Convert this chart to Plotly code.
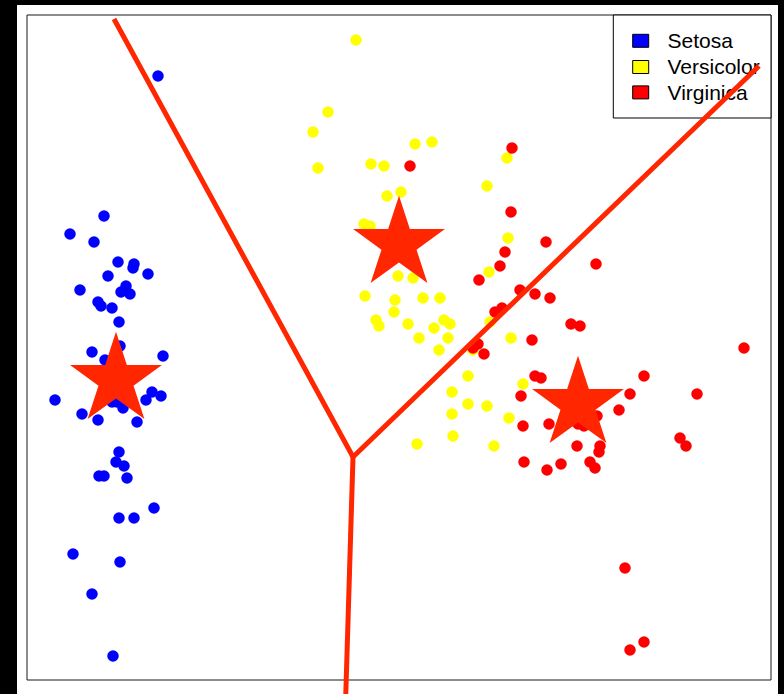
import plotly.graph_objects as go

# --- Cluster members (first two principal components) ---
setosa_x = [-1.69, -2.23, -2.57, -2.33, -2.09, -1.93, -1.94, -2.19, -1.79, -2.47,
            -2.01, -2.06, -1.97, -2.29, -2.26, -2.15, -2.08, -2.35, -2.07, -2.22,
            -1.64, -2.72, -1.75, -1.66, -1.81, -2.15, -2.10, -2.04, -2.45, -2.29,
            -1.90, -2.08, -2.11, -2.03, -2.28, -2.23, -2.00, -1.73, -2.08, -1.93,
            -2.54, -2.07, -2.35, -2.14]
setosa_y = [1.36, 0.66, 0.57, 0.53, 0.43, 0.42, 0.40, 0.36, 0.37, 0.29,
            0.31, 0.28, 0.27, 0.23, 0.21, 0.20, 0.13, -0.02, 0.01, -0.06,
            -0.04, -0.26, -0.22, -0.24, -0.26, -0.27, -0.27, -0.30, -0.33, -0.36,
            -0.37, -0.52, -0.57, -0.59, -0.64, -0.64, -0.65, -0.80, -0.85, -0.85,
            -1.03, -1.07, -1.23, -1.54]

versicolor_x = [0.29, 0.01, -0.14, -0.09, 0.44, 0.57, 0.88, 1.05, 0.60, 0.74,
                0.37, 0.43, 0.71, 0.86, 0.38, 0.68, 0.67, 0.96, 1.13, 0.49,
                0.52, 0.81, 1.07, 1.17, 1.23, 0.92, 1.21, 1.12, 1.60, 1.80,
                1.81, 1.62, 1.63, 1.84, 1.46, 1.41, 1.25, 1.96, 1.41, 1.60,
                1.25, 1.82, 1.26, 0.90, 1.67]
versicolor_y = [1.54, 1.18, 1.08, 0.90, 0.92, 0.91, 1.02, 1.03, 0.76, 0.78,
                0.62, 0.61, 0.36, 0.35, 0.26, 0.24, 0.18, 0.25, 0.25, 0.14,
                0.11, 0.12, 0.10, 0.14, 0.12, 0.05, 0.05, -0.01, 0.81, 0.95,
                0.55, 0.38, 0.13, 0.05, -0.01, -0.14, -0.22, -0.18, -0.28, -0.29,
                -0.33, -0.35, -0.44, -0.48, -0.49]

virginica_x = [0.83, 1.85, 1.84, 1.78, 2.19, 1.73, 2.69, 1.52, 1.93, 2.08,
               2.23, 1.68, 1.75, 2.44, 2.53, 2.05, 1.51, 1.46, 1.57, 4.17,
               2.08, 2.14, 3.17, 1.94, 3.03, 3.70, 2.92, 2.70, 1.96, 2.22,
               2.51, 2.57, 3.53, 3.59, 2.50, 2.73, 2.72, 1.97, 2.20, 2.34,
               2.63, 2.68, 2.98, 3.17, 3.03]
virginica_y = [0.91, 1.00, 0.68, 0.48, 0.53, 0.41, 0.42, 0.34, 0.29, 0.27,
               0.25, 0.18, 0.20, 0.12, 0.11, 0.04, 0.02, 0.00, -0.03, 0.00,
               -0.14, -0.15, -0.14, -0.24, -0.23, -0.23, -0.31, -0.34, -0.39, -0.38,
               -0.38, -0.39, -0.45, -0.49, -0.49, -0.49, -0.52, -0.57, -0.61, -0.58,
               -0.57, -0.60, -1.10, -1.47, -1.51]

# --- Cluster centres ---
centre_x = [-2.11, 0.72, 2.51]
centre_y = [-0.16, 0.52, -0.28]

# --- Voronoi boundary between the centres (three rays from one vertex) ---
boundary_x = [-2.13, 0.26, 4.32]
boundary_y = [1.645, -0.545, 1.41]
boundary2_x = [0.26, 0.18]
boundary2_y = [-0.545, -1.86]

species = ["Setosa", "Versicolor", "Virginica"]
species_colors = ["#0000FF", "#FFFF00", "#FF0000"]
accent = "#FF2600"

# Frame and legend geometry (data units)
frame = dict(x0=-3.00, x1=4.44, y0=-1.66, y1=1.665)
legend_box = dict(x0=2.863, x1=4.44, y0=1.15, y1=1.665)
legend_sw_x = (3.057, 3.217)
legend_rows_y = [1.536, 1.405, 1.278]
legend_sw_h = 0.065
legend_text_x = 3.405
legend_text_dy = -0.01

fig = go.Figure()

for xs, ys, col, name in zip([setosa_x, versicolor_x, virginica_x],
                             [setosa_y, versicolor_y, virginica_y],
                             species_colors, species):
    fig.add_trace(go.Scatter(
        x=xs, y=ys, mode="markers", name=name,
        marker=dict(color=col, size=11.5, line=dict(width=0)),
    ))

# Legend labels (drawn as text so the boundary passes over them)
fig.add_trace(go.Scatter(
    x=[legend_text_x] * 3, y=[v + legend_text_dy for v in legend_rows_y],
    mode="text", text=species,
    textposition="middle right",
    textfont=dict(family="Liberation Sans, Arial, sans-serif", size=21, color="black"),
    hoverinfo="skip",
))

fig.add_trace(go.Scatter(
    x=centre_x, y=centre_y, mode="markers",
    marker=dict(symbol="star", size=69, color=accent, line=dict(width=0)),
))

for bx, by in [(boundary_x, boundary_y), (boundary2_x, boundary2_y)]:
    fig.add_trace(go.Scatter(
        x=bx, y=by, mode="lines",
        line=dict(color=accent, width=5),
        hoverinfo="skip",
    ))

shapes = [
    dict(type="rect", xref="x", yref="y", layer="below",
         line=dict(color="#1a1a1a", width=1), fillcolor="rgba(0,0,0,0)", **frame),
    dict(type="rect", xref="x", yref="y", layer="below",
         line=dict(color="black", width=1), fillcolor="white", **legend_box),
]
for yc, col in zip(legend_rows_y, species_colors):
    shapes.append(dict(
        type="rect", xref="x", yref="y", layer="below",
        x0=legend_sw_x[0], x1=legend_sw_x[1],
        y0=yc - legend_sw_h / 2, y1=yc + legend_sw_h / 2,
        line=dict(color="black", width=1), fillcolor=col,
    ))

fig.update_layout(
    width=784, height=694,
    margin=dict(l=17, r=6, t=5, b=0),
    paper_bgcolor="black",
    plot_bgcolor="white",
    showlegend=False,
    shapes=shapes,
)
fig.update_xaxes(visible=False, range=[-3.10, 4.51])
fig.update_yaxes(visible=False, range=[-1.73, 1.715])

fig.write_html("out.html")
